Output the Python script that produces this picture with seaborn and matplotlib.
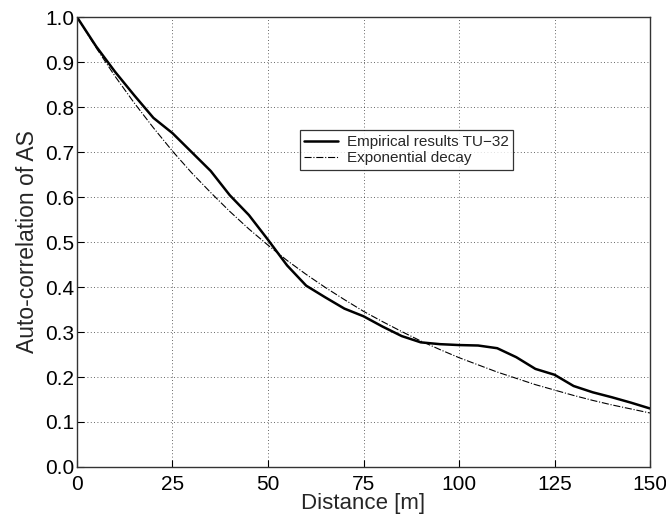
# Auto-correlation of AS versus distance, empirical vs exponential fit.
import matplotlib

matplotlib.use("Agg")
import matplotlib.pyplot as plt
import numpy as np
import pandas as pd
import seaborn as sns

distance = [0, 5, 10, 15, 20, 25, 30, 35, 40, 45, 50, 55, 60, 65, 70, 75,
            80, 85, 90, 95, 100, 105, 110, 115, 120, 125, 130, 135, 140, 145, 150]
empirical = [1.0, 0.935, 0.878, 0.826, 0.776, 0.742, 0.700, 0.658, 0.604, 0.560,
             0.505, 0.448, 0.403, 0.377, 0.352, 0.335, 0.312, 0.291, 0.277, 0.273,
             0.271, 0.270, 0.264, 0.244, 0.218, 0.205, 0.180, 0.166, 0.155, 0.143, 0.130]
exponential = [1.0, 0.932, 0.868, 0.809, 0.754, 0.702, 0.654, 0.610, 0.568, 0.529,
               0.493, 0.459, 0.428, 0.399, 0.372, 0.346, 0.323, 0.301, 0.280, 0.261,
               0.243, 0.227, 0.211, 0.197, 0.183, 0.171, 0.159, 0.148, 0.138, 0.129, 0.120]
series_names = ["Empirical results TU\u221232", "Exponential decay"]

df = pd.DataFrame({"distance": distance, "empirical": empirical, "exponential": exponential})

sns.set_theme(style="ticks")
plt.rcParams["font.family"] = ["Liberation Sans", "DejaVu Sans"]

fig = plt.figure(figsize=(6.66, 5.18), dpi=100)
ax = fig.add_axes([0.1156, 0.0985, 0.8604, 0.8685])

sns.lineplot(data=df, x="distance", y="empirical", color="black", lw=1.8,
             label=series_names[0], ax=ax)
sns.lineplot(data=df, x="distance", y="exponential", color="black", lw=0.8,
             linestyle="-.", label=series_names[1], ax=ax)

ax.set_xlim(0, 150)
ax.set_ylim(0, 1)
ax.set_xticks(np.arange(0, 151, 25))
ax.set_yticks(np.arange(0, 1.01, 0.1))
ax.set_yticklabels([f"{v:.1f}" for v in np.arange(0, 1.01, 0.1)])
ax.tick_params(direction="in", length=5, width=0.8, labelsize=15, colors="black")
ax.tick_params(axis="y", pad=2)
ax.tick_params(axis="x", pad=6)
ax.grid(True, linestyle=(0, (1, 3)), color="black", lw=0.6, alpha=0.8)
for s in ax.spines.values():
    s.set_color("#333333")
    s.set_linewidth(1.0)

ax.set_xlabel("Distance [m]", fontsize=16)
ax.xaxis.set_label_coords(0.5, -0.058)
ax.set_ylabel("Auto-correlation of AS", fontsize=16.5, labelpad=4)

leg = ax.legend(loc="upper left", bbox_to_anchor=(0.375, 0.765), fontsize=11,
                frameon=True, fancybox=False, handlelength=2.2, borderpad=0.3,
                labelspacing=0.15, handletextpad=0.6)
leg.get_frame().set_edgecolor("black")
leg.get_frame().set_linewidth(0.9)

fig.savefig("out.png", dpi=100)
